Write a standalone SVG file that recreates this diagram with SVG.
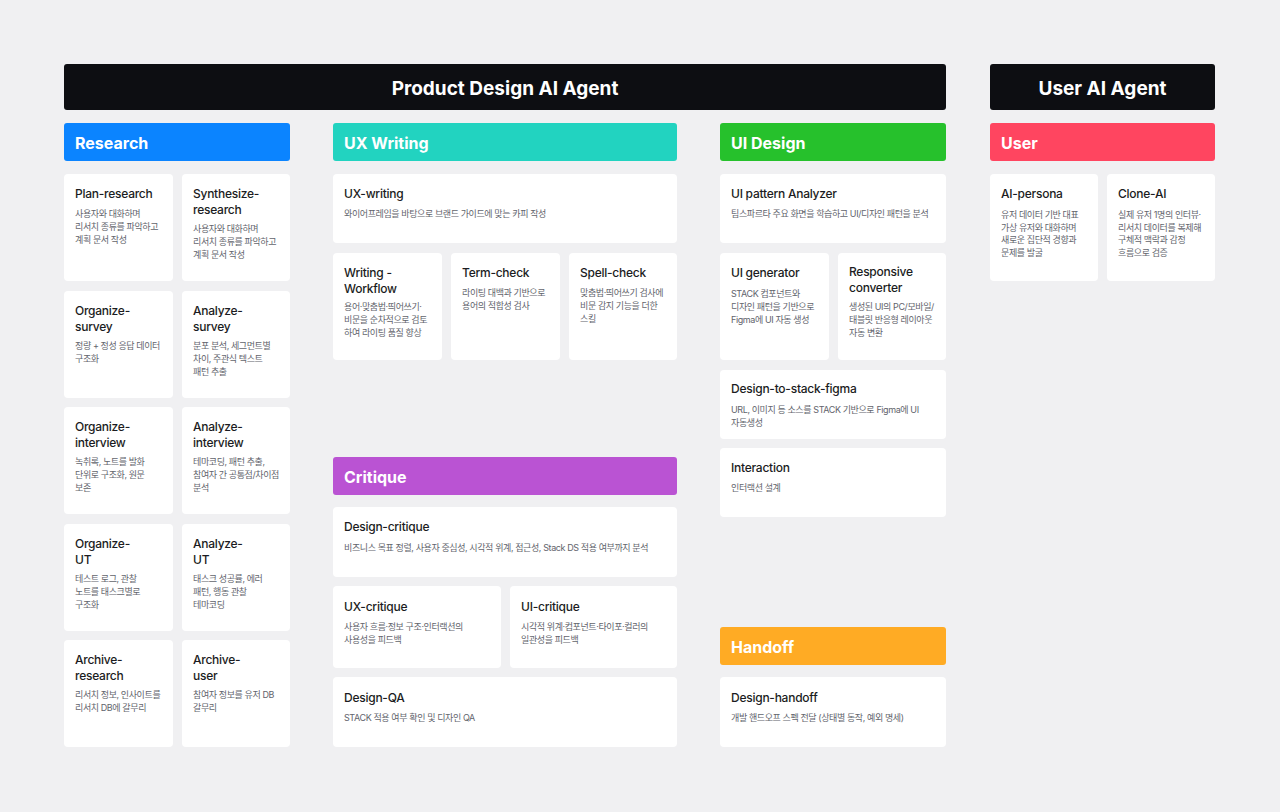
<svg xmlns="http://www.w3.org/2000/svg" width="1280" height="812" viewBox="0 0 1280 812">
<style>
.bg{fill:#F0F0F2}
.card{fill:#FFFFFF}
.top{fill:#0D0E12}
.tt{font-family:Inter,"Noto Sans CJK KR",sans-serif;font-weight:700;font-size:19px;fill:#FFFFFF;text-anchor:middle}
.h{font-family:Inter,"Noto Sans CJK KR",sans-serif;font-weight:700;font-size:16px;fill:#FFFFFF}
.t{font-family:Inter,"Noto Sans CJK KR",sans-serif;font-weight:500;font-size:12px;fill:#1B1C22;letter-spacing:-0.25px}
.d{font-family:Inter,"Noto Sans CJK KR",sans-serif;font-size:9px;fill:#62646C;letter-spacing:-0.4px}
</style>
<rect class="bg" x="0" y="0" width="1280" height="812"/>

<g id="header-product">
<rect class="top" x="64" y="64" width="882" height="46" rx="3"/>
<text class="tt" x="505" y="95">Product Design AI Agent</text>
</g>
<g id="header-user-agent">
<rect class="top" x="990" y="64" width="225" height="46" rx="3"/>
<text class="tt" x="1102.5" y="95">User AI Agent</text>
</g>

<!-- Category headers -->
<g id="cat-research"><rect x="64" y="123" width="226" height="38" rx="3" fill="#0B84FF"/><text class="h" x="75" y="149">Research</text></g>
<g id="cat-uxwriting"><rect x="333" y="123" width="344" height="38" rx="3" fill="#22D3C0"/><text class="h" x="344" y="149">UX Writing</text></g>
<g id="cat-uidesign"><rect x="720" y="123" width="226" height="38" rx="3" fill="#26C12C"/><text class="h" x="731" y="149">UI Design</text></g>
<g id="cat-user"><rect x="990" y="123" width="225" height="38" rx="3" fill="#FF4560"/><text class="h" x="1001" y="149">User</text></g>
<g id="cat-critique"><rect x="333" y="457" width="344" height="38" rx="3" fill="#BA53D3"/><text class="h" x="344" y="483">Critique</text></g>
<g id="cat-handoff"><rect x="720" y="627" width="226" height="38" rx="3" fill="#FFAB24"/><text class="h" x="731" y="653">Handoff</text></g>

<!-- Research -->
<g id="plan-research"><rect class="card" x="64" y="174" width="109" height="107" rx="4"/>
<text class="t" x="75" y="198">Plan-research</text>
<text class="d" x="75" y="217"><tspan x="75">사용자와 대화하며</tspan><tspan x="75" dy="13">리서치 종류를 파악하고</tspan><tspan x="75" dy="13">계획 문서 작성</tspan></text></g>
<g id="synthesize-research"><rect class="card" x="182" y="174" width="108" height="107" rx="4"/>
<text class="t" x="193" y="198"><tspan x="193">Synthesize-</tspan><tspan x="193" dy="16">research</tspan></text>
<text class="d" x="193" y="232"><tspan x="193">사용자와 대화하며</tspan><tspan x="193" dy="13">리서치 종류를 파악하고</tspan><tspan x="193" dy="13">계획 문서 작성</tspan></text></g>

<g id="organize-survey"><rect class="card" x="64" y="291" width="109" height="107" rx="4"/>
<text class="t" x="75" y="315"><tspan x="75">Organize-</tspan><tspan x="75" dy="16">survey</tspan></text>
<text class="d" x="75" y="349"><tspan x="75">정량 + 정성 응답 데이터</tspan><tspan x="75" dy="13">구조화</tspan></text></g>
<g id="analyze-survey"><rect class="card" x="182" y="291" width="108" height="107" rx="4"/>
<text class="t" x="193" y="315"><tspan x="193">Analyze-</tspan><tspan x="193" dy="16">survey</tspan></text>
<text class="d" x="193" y="349"><tspan x="193">분포 분석, 세그먼트별</tspan><tspan x="193" dy="13">차이, 주관식 텍스트</tspan><tspan x="193" dy="13">패턴 추출</tspan></text></g>

<g id="organize-interview"><rect class="card" x="64" y="407" width="109" height="107" rx="4"/>
<text class="t" x="75" y="431"><tspan x="75">Organize-</tspan><tspan x="75" dy="16">interview</tspan></text>
<text class="d" x="75" y="465"><tspan x="75">녹취록, 노트를 발화</tspan><tspan x="75" dy="13">단위로 구조화, 원문</tspan><tspan x="75" dy="13">보존</tspan></text></g>
<g id="analyze-interview"><rect class="card" x="182" y="407" width="108" height="107" rx="4"/>
<text class="t" x="193" y="431"><tspan x="193">Analyze-</tspan><tspan x="193" dy="16">interview</tspan></text>
<text class="d" x="193" y="465"><tspan x="193">테마코딩, 패턴 추출,</tspan><tspan x="193" dy="13">참여자 간 공통점/차이점</tspan><tspan x="193" dy="13">분석</tspan></text></g>

<g id="organize-ut"><rect class="card" x="64" y="524" width="109" height="107" rx="4"/>
<text class="t" x="75" y="548"><tspan x="75">Organize-</tspan><tspan x="75" dy="16">UT</tspan></text>
<text class="d" x="75" y="582"><tspan x="75">테스트 로그, 관찰</tspan><tspan x="75" dy="13">노트를 태스크별로</tspan><tspan x="75" dy="13">구조화</tspan></text></g>
<g id="analyze-ut"><rect class="card" x="182" y="524" width="108" height="107" rx="4"/>
<text class="t" x="193" y="548"><tspan x="193">Analyze-</tspan><tspan x="193" dy="16">UT</tspan></text>
<text class="d" x="193" y="582"><tspan x="193">태스크 성공률, 에러</tspan><tspan x="193" dy="13">패턴, 행동 관찰</tspan><tspan x="193" dy="13">테마코딩</tspan></text></g>

<g id="archive-research"><rect class="card" x="64" y="640" width="109" height="107" rx="4"/>
<text class="t" x="75" y="664"><tspan x="75">Archive-</tspan><tspan x="75" dy="16">research</tspan></text>
<text class="d" x="75" y="698"><tspan x="75">리서치 정보, 인사이트를</tspan><tspan x="75" dy="13">리서치 DB에 갈무리</tspan></text></g>
<g id="archive-user"><rect class="card" x="182" y="640" width="108" height="107" rx="4"/>
<text class="t" x="193" y="664"><tspan x="193">Archive-</tspan><tspan x="193" dy="16">user</tspan></text>
<text class="d" x="193" y="698"><tspan x="193">참여자 정보를 유저 DB</tspan><tspan x="193" dy="13">갈무리</tspan></text></g>

<!-- UX Writing -->
<g id="ux-writing"><rect class="card" x="333" y="174" width="344" height="69" rx="4"/>
<text class="t" x="344" y="198">UX-writing</text>
<text class="d" x="344" y="217">와이어프레임을 바탕으로 브랜드 가이드에 맞는 카피 작성</text></g>
<g id="writing-workflow"><rect class="card" x="333" y="253" width="109" height="107" rx="4"/>
<text class="t" x="344" y="277"><tspan x="344">Writing -</tspan><tspan x="344" dy="16">Workflow</tspan></text>
<text class="d" x="344" y="310"><tspan x="344">용어·맞춤법·띄어쓰기·</tspan><tspan x="344" dy="13">비문을 순차적으로 검토</tspan><tspan x="344" dy="13">하여 라이팅 품질 향상</tspan></text></g>
<g id="term-check"><rect class="card" x="451" y="253" width="109" height="107" rx="4"/>
<text class="t" x="462" y="277">Term-check</text>
<text class="d" x="462" y="296"><tspan x="462">라이팅 대백과 기반으로</tspan><tspan x="462" dy="13">용어의 적합성 검사</tspan></text></g>
<g id="spell-check"><rect class="card" x="569" y="253" width="108" height="107" rx="4"/>
<text class="t" x="580" y="277">Spell-check</text>
<text class="d" x="580" y="296"><tspan x="580">맞춤법·띄어쓰기 검사에</tspan><tspan x="580" dy="13">비문 감지 기능을 더한</tspan><tspan x="580" dy="13">스킬</tspan></text></g>

<!-- Critique -->
<g id="design-critique"><rect class="card" x="333" y="507" width="344" height="70" rx="4"/>
<text class="t" x="344" y="531">Design-critique</text>
<text class="d" x="344" y="551">비즈니스 목표 정렬, 사용자 중심성, 시각적 위계, 접근성, Stack DS 적용 여부까지 분석</text></g>
<g id="ux-critique"><rect class="card" x="333" y="586" width="168" height="82" rx="4"/>
<text class="t" x="344" y="611">UX-critique</text>
<text class="d" x="344" y="630"><tspan x="344">사용자 흐름·정보 구조·인터랙션의</tspan><tspan x="344" dy="12.5">사용성을 피드백</tspan></text></g>
<g id="ui-critique"><rect class="card" x="510" y="586" width="167" height="82" rx="4"/>
<text class="t" x="521" y="611">UI-critique</text>
<text class="d" x="521" y="630"><tspan x="521">시각적 위계·컴포넌트·타이포·컬러의</tspan><tspan x="521" dy="12.5">일관성을 피드백</tspan></text></g>
<g id="design-qa"><rect class="card" x="333" y="677" width="344" height="70" rx="4"/>
<text class="t" x="344" y="702">Design-QA</text>
<text class="d" x="344" y="721">STACK 적용 여부 확인 및 디자인 QA</text></g>

<!-- UI Design -->
<g id="ui-pattern-analyzer"><rect class="card" x="720" y="174" width="226" height="69" rx="4"/>
<text class="t" x="731" y="198">UI pattern Analyzer</text>
<text class="d" x="731" y="217">팀스파르타 주요 화면을 학습하고 UI/디자인 패턴을 분석</text></g>
<g id="ui-generator"><rect class="card" x="720" y="253" width="109" height="107" rx="4"/>
<text class="t" x="731" y="277">UI generator</text>
<text class="d" x="731" y="297"><tspan x="731">STACK 컴포넌트와</tspan><tspan x="731" dy="13">디자인 패턴을 기반으로</tspan><tspan x="731" dy="13">Figma에 UI 자동 생성</tspan></text></g>
<g id="responsive-converter"><rect class="card" x="838" y="253" width="108" height="107" rx="4"/>
<text class="t" x="849" y="276"><tspan x="849">Responsive</tspan><tspan x="849" dy="16">converter</tspan></text>
<text class="d" x="849" y="310"><tspan x="849">생성된 UI의 PC/모바일/</tspan><tspan x="849" dy="13">태블릿 반응형 레이아웃</tspan><tspan x="849" dy="13">자동 변환</tspan></text></g>
<g id="design-to-stack-figma"><rect class="card" x="720" y="370" width="226" height="69" rx="4"/>
<text class="t" x="731" y="393">Design-to-stack-figma</text>
<text class="d" x="731" y="413"><tspan x="731">URL, 이미지 등 소스를 STACK 기반으로 Figma에 UI</tspan><tspan x="731" dy="12.5">자동생성</tspan></text></g>
<g id="interaction"><rect class="card" x="720" y="448" width="226" height="69" rx="4"/>
<text class="t" x="731" y="472">Interaction</text>
<text class="d" x="731" y="491">인터랙션 설계</text></g>

<!-- Handoff -->
<g id="design-handoff"><rect class="card" x="720" y="677" width="226" height="70" rx="4"/>
<text class="t" x="731" y="702">Design-handoff</text>
<text class="d" x="731" y="721">개발 핸드오프 스펙 전달 (상태별 동작, 예외 명세)</text></g>

<!-- User -->
<g id="ai-persona"><rect class="card" x="990" y="174" width="108" height="107" rx="4"/>
<text class="t" x="1001" y="198">AI-persona</text>
<text class="d" x="1001" y="218"><tspan x="1001">유저 데이터 기반 대표</tspan><tspan x="1001" dy="12.7">가상 유저와 대화하며</tspan><tspan x="1001" dy="12.7">새로운 집단적 경향과</tspan><tspan x="1001" dy="12.7">문제를 발굴</tspan></text></g>
<g id="clone-ai"><rect class="card" x="1107" y="174" width="108" height="107" rx="4"/>
<text class="t" x="1118" y="198">Clone-AI</text>
<text class="d" x="1118" y="218"><tspan x="1118">실제 유저 1명의 인터뷰·</tspan><tspan x="1118" dy="12.7">리서치 데이터를 복제해</tspan><tspan x="1118" dy="12.7">구체적 맥락과 감정</tspan><tspan x="1118" dy="12.7">흐름으로 검증</tspan></text></g>

<g id="connectors"></g>
</svg>
